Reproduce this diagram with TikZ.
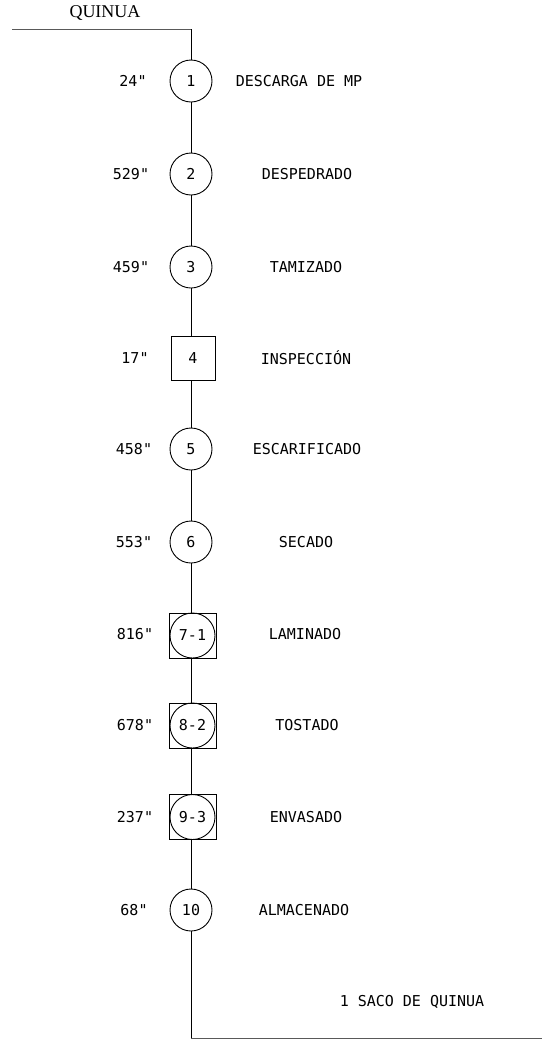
\documentclass[tikz,border=0pt]{standalone}
\usepackage{fontspec}
\setmainfont{Liberation Serif}
\setmonofont{DejaVu Sans Mono}
\begin{document}
\begin{tikzpicture}[x=1pt,y=-1pt,
  op/.style={draw,circle,minimum size=42pt,inner sep=0pt,line width=0.9pt,font=\ttfamily\fontsize{15}{18}\selectfont},
  insp/.style={draw,rectangle,minimum size=44pt,inner sep=0pt,line width=0.9pt,font=\ttfamily\fontsize{15}{18}\selectfont},
  combo/.style={draw,rectangle,minimum width=47pt,minimum height=45pt,inner sep=0pt,line width=0.9pt},
  comboc/.style={draw,circle,minimum size=45pt,inner sep=0pt,line width=0.9pt,font=\ttfamily\fontsize{15}{18}\selectfont},
  lbl/.style={font=\ttfamily\fontsize{15}{18}\selectfont,inner sep=0pt},
  flow/.style={line width=0.9pt},
  hflow/.style={line width=1pt,draw=black!65}]
\useasboundingbox (0,0) rectangle (542,1039);
\node[font=\fontsize{18}{20}\selectfont,inner sep=0pt] (q) at (105,13) {QUINUA};
\coordinate (start) at (12,29);
\coordinate (c0) at (191,29);
\node[op] (n1) at (191,81) {1};
\node[op] (n2) at (191,174) {2};
\node[op] (n3) at (191,267) {3};
\node[insp] (n4) at (193,358) {4};
\node[op] (n5) at (191,449) {5};
\node[op] (n6) at (191,542) {6};
\node[combo] (n7) at (192.5,635.5) {};
\node[comboc] at (n7) {7-1};
\node[combo] (n8) at (192.5,725.5) {};
\node[comboc] at (n8) {8-2};
\node[combo] (n9) at (192.5,817) {};
\node[comboc] at (n9) {9-3};
\node[op] (n10) at (191,910) {10};
\coordinate (c11) at (191,1038);
\coordinate (end) at (542,1038);
\draw[hflow] (start) -- (c0);
\draw[flow] (c0) -- (n1);
\draw[flow] (n1) -- (n2);
\draw[flow] (n2) -- (n3);
\draw[flow] (n3) -- (n3 |- n4.north);
\draw[flow] (n4.south -| n3) -- (n5);
\draw[flow] (n5) -- (n6);
\draw[flow] (n6) -- (n6 |- n7.north);
\draw[flow] (n6 |- n7.south) -- (n6 |- n8.north);
\draw[flow] (n6 |- n8.south) -- (n6 |- n9.north);
\draw[flow] (n6 |- n9.south) -- (n10);
\draw[flow] (n10) -- (c11);
\draw[hflow] (c11) -- (end);
% times
\node[lbl] (t1) at (133,81) {24"};
\node[lbl] (t2) at (131,174) {529"};
\node[lbl] (t3) at (131,267) {459"};
\node[lbl] (t4) at (135,358) {17"};
\node[lbl] (t5) at (134,449) {458"};
\node[lbl] (t6) at (134,542) {553"};
\node[lbl] (t7) at (135,634) {816"};
\node[lbl] (t8) at (135,725) {678"};
\node[lbl] (t9) at (135,817) {237"};
\node[lbl] (t10) at (134,910) {68"};
% activities
\node[lbl] (a1) at (299,81) {DESCARGA DE MP};
\node[lbl] (a2) at (307,174) {DESPEDRADO};
\node[lbl] (a3) at (306,267) {TAMIZADO};
\node[lbl] (a4) at (306,358) {INSPECCIÓN};
\node[lbl] (a5) at (307,449) {ESCARIFICADO};
\node[lbl] (a6) at (306,542) {SECADO};
\node[lbl] (a7) at (305,634) {LAMINADO};
\node[lbl] (a8) at (307,725) {TOSTADO};
\node[lbl] (a9) at (306,817) {ENVASADO};
\node[lbl] (a10) at (304,910) {ALMACENADO};
\node[lbl] (out) at (412,1002) {1 SACO DE QUINUA};
\end{tikzpicture}
\end{document}
